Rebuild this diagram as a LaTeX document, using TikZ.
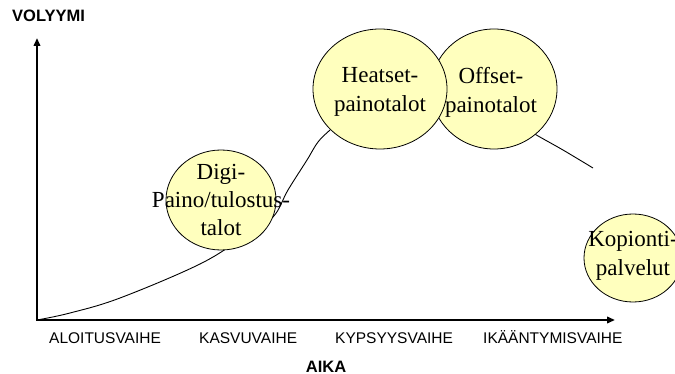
\documentclass[tikz,border=0pt]{standalone}
\usepackage{fontspec}
\setmainfont{Liberation Serif}
\setsansfont{Liberation Sans}
\usetikzlibrary{shapes.geometric,arrows.meta}
\definecolor{bubblefill}{RGB}{255,255,190}
\begin{document}
\begin{tikzpicture}[x=1pt,y=-1pt,
  axisline/.style={line width=2pt,{Triangle[length=8pt,width=6.5pt]}-{Triangle[length=8pt,width=6.5pt]}},
  trend/.style={line width=0.9pt},
  bubble/.style={ellipse,draw=black,line width=0.8pt,fill=bubblefill,inner sep=0pt},
  bubbletext/.style={align=center,font=\fontsize{23}{29}\selectfont},
  phase/.style={anchor=base west,font=\sffamily\fontsize{15.5}{18}\selectfont},
  axistitle/.style={font=\sffamily\bfseries\fontsize{16.5}{19}\selectfont}]
\useasboundingbox (0,0) rectangle (675,374);

% axes
\coordinate (o) at (37,320);
\coordinate (ytip) at (37,38);
\coordinate (xtip) at (615,320);
\draw[axisline] (ytip) -- (o) -- (xtip);

% life-cycle curve (partly hidden behind the bubbles)
\draw[trend] plot[smooth,tension=0.6] coordinates
  {(37,320) (70,313) (120,298) (200,264) (245,236) (273,217) (288,190) (307,160) (318,142) (330,130) (350,112)};
\draw[trend] plot[smooth] coordinates {(505,115) (533,133) (563,150) (593,168)};

% bubbles
\node[bubble,minimum width=110pt,minimum height=100pt] (digi) at (221,200) {};
\node[bubble,minimum width=126pt,minimum height=120pt] (offs) at (494,89) {};
\node[bubble,minimum width=134pt,minimum height=120pt] (heat) at (380,89) {};
\node[bubble,minimum width=98pt,minimum height=88pt] (kop) at (633,258) {};

% bubble texts
\node[bubbletext,font=\fontsize{23}{28}\selectfont] (digitxt) at (221,200) {Digi-\\Paino/tulostus-\\talot};
\node[bubbletext] (heattxt) at (380,92) {Heatset-\\painotalot};
\node[bubbletext] (offstxt) at (491,92) {Offset-\\painotalot};
\node[bubbletext] (koptxt) at (633,256) {Kopionti-\\palvelut};

% axis labels
\node[axistitle,anchor=base west,inner sep=0pt] (vol) at (12,22) {VOLYYMI};
\node[axistitle,anchor=base,inner sep=0pt] (aika) at (326,372) {AIKA};
\node[phase,inner sep=0pt] (p1) at (49,343) {ALOITUSVAIHE};
\node[phase,inner sep=0pt] (p2) at (199,343) {KASVUVAIHE};
\node[phase,inner sep=0pt] (p3) at (335,343) {KYPSYYSVAIHE};
\node[phase,inner sep=0pt] (p4) at (483,343) {IKÄÄNTYMISVAIHE};
\end{tikzpicture}
\end{document}
